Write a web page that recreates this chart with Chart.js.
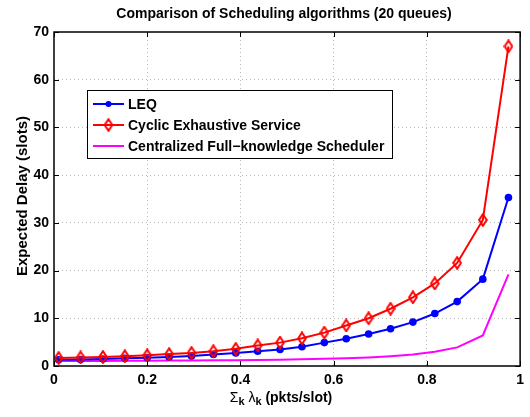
<!DOCTYPE html>
<html>
<head>
<meta charset="utf-8">
<script src="https://cdn.jsdelivr.net/npm/chart.js@4.4.1/dist/chart.umd.min.js"></script>
<style>
  html, body { margin: 0; padding: 0; background: #fff; }
  canvas { display: block; }
</style>
</head>
<body>
<canvas id="delayChart" width="530" height="417"></canvas>
<script>
  // total load, sum of lambda_k (pkts/slot)
  const loadValues = [0.01, 0.057, 0.105, 0.152, 0.2, 0.247, 0.295, 0.342, 0.39, 0.437, 0.485,
    0.532, 0.58, 0.627, 0.675, 0.722, 0.77, 0.817, 0.865, 0.92, 0.975];
  const leqDelay = [1.3, 1.35, 1.45, 1.6, 1.75, 1.9, 2.1, 2.4, 2.75, 3.1, 3.45,
    4.05, 4.9, 5.7, 6.7, 7.8, 9.2, 11.0, 13.5, 18.2, 35.3];
  const cyclicDelay = [1.7, 1.8, 1.9, 2.05, 2.25, 2.5, 2.75, 3.1, 3.6, 4.3, 4.9,
    5.8, 7.0, 8.5, 10.0, 12.0, 14.4, 17.3, 21.6, 30.6, 67.0];
  const centralDelay = [1.05, 1.06, 1.07, 1.09, 1.11, 1.13, 1.16, 1.19, 1.23, 1.27, 1.32,
    1.4, 1.5, 1.62, 1.8, 2.05, 2.4, 3.0, 3.9, 6.4, 19.2];
  const seriesNames = ['LEQ', 'Cyclic Exhaustive Service', 'Centralized Full\u2212knowledge Scheduler'];
  const xTickValues = [0, 0.2, 0.4, 0.6, 0.8, 1];
  const yTickValues = [0, 10, 20, 30, 40, 50, 60, 70];

  const FONT = '"Liberation Sans", Arial, Helvetica, sans-serif';
  const BLUE = '#0000ff';
  const RED = '#ff0000';
  const MAGENTA = '#ff00ff';

  // hollow tall diamond like matlab's 'd' marker
  function makeDiamond(color) {
    const c = document.createElement('canvas');
    c.width = 10;
    c.height = 14;
    const g = c.getContext('2d');
    g.strokeStyle = color;
    g.lineWidth = 2;
    g.beginPath();
    g.moveTo(5, 1.2);
    g.lineTo(8.8, 7);
    g.lineTo(5, 12.8);
    g.lineTo(1.2, 7);
    g.closePath();
    g.stroke();
    return c;
  }
  const diamond = makeDiamond(RED);

  function toPoints(ys) {
    return ys.map(function (y, i) { return { x: loadValues[i], y: y }; });
  }

  const matlabFrame = {
    id: 'matlabFrame',
    afterDraw: function (chart) {
      const ctx = chart.ctx;
      const area = chart.chartArea;
      const xs = chart.scales.x;
      const ys = chart.scales.y;

      ctx.save();
      // inward ticks
      ctx.strokeStyle = '#000';
      ctx.lineWidth = 1;
      ctx.beginPath();
      xTickValues.forEach(function (v) {
        const px = Math.round(xs.getPixelForValue(v)) + 0.5;
        ctx.moveTo(px, area.bottom); ctx.lineTo(px, area.bottom - 5);
        ctx.moveTo(px, area.top); ctx.lineTo(px, area.top + 5);
      });
      yTickValues.forEach(function (v) {
        const py = Math.round(ys.getPixelForValue(v)) + 0.5;
        ctx.moveTo(area.left, py); ctx.lineTo(area.left + 5, py);
        ctx.moveTo(area.right, py); ctx.lineTo(area.right - 5, py);
      });
      ctx.stroke();

      // box
      ctx.lineWidth = 1.5;
      ctx.strokeRect(area.left, area.top, area.right - area.left, area.bottom - area.top);

      // title
      ctx.fillStyle = '#000';
      ctx.textAlign = 'center';
      ctx.textBaseline = 'middle';
      ctx.font = 'bold 14px ' + FONT;
      ctx.fillText('Comparison of Scheduling algorithms (20 queues)', 284, 14);

      // y axis title
      ctx.save();
      ctx.translate(23, 196);
      ctx.rotate(-Math.PI / 2);
      ctx.font = 'bold 15px ' + FONT;
      ctx.fillText('Expected Delay (slots)', 0, 0);
      ctx.restore();

      // x axis title with subscripts
      const parts = [
        { t: '\u03a3', f: '14px ' + FONT, dy: 0 },
        { t: 'k', f: 'bold 11px ' + FONT, dy: 4 },
        { t: ' \u03bb', f: '14px ' + FONT, dy: 0 },
        { t: 'k', f: 'bold 11px ' + FONT, dy: 4 },
        { t: ' (pkts/slot)', f: 'bold 14px ' + FONT, dy: 0 }
      ];
      let total = 0;
      parts.forEach(function (p) { ctx.font = p.f; p.w = ctx.measureText(p.t).width; total += p.w; });
      let cx = 281 - total / 2;
      ctx.textAlign = 'left';
      parts.forEach(function (p) {
        ctx.font = p.f;
        ctx.fillText(p.t, cx, 398 + p.dy);
        cx += p.w;
      });

      // legend
      const lx = 87, ly = 90, lw = 305, lh = 68;
      ctx.fillStyle = '#fff';
      ctx.fillRect(lx, ly, lw, lh);
      ctx.strokeStyle = '#000';
      ctx.lineWidth = 1;
      ctx.strokeRect(lx + 0.5, ly + 0.5, lw, lh);
      const rows = [104, 125, 146];
      const colors = [BLUE, RED, MAGENTA];
      rows.forEach(function (ry, i) {
        ctx.strokeStyle = colors[i];
        ctx.lineWidth = 2;
        ctx.beginPath();
        ctx.moveTo(93, ry); ctx.lineTo(124, ry);
        ctx.stroke();
        if (i === 0) {
          ctx.fillStyle = BLUE;
          ctx.beginPath();
          ctx.arc(108.5, ry, 3, 0, Math.PI * 2);
          ctx.fill();
        } else if (i === 1) {
          ctx.drawImage(diamond, 108.5 - 5, ry - 7);
        }
        ctx.fillStyle = '#000';
        ctx.font = 'bold 14px ' + FONT;
        ctx.textAlign = 'left';
        ctx.fillText(seriesNames[i], 128, ry + 1);
      });
      ctx.restore();
    }
  };

  function gridColor(c) {
    const v = c.tick && c.tick.value;
    const first = c.scale.min, last = c.scale.max;
    return (v === first || v === last) ? 'rgba(0,0,0,0)' : '#b8b8b8';
  }

  new Chart(document.getElementById('delayChart'), {
    type: 'line',
    data: {
      datasets: [
        {
          label: seriesNames[0],
          data: toPoints(leqDelay),
          borderColor: BLUE,
          backgroundColor: BLUE,
          borderWidth: 2,
          pointStyle: 'circle',
          pointRadius: 3.8,
          pointBorderWidth: 0,
          order: 2
        },
        {
          label: seriesNames[1],
          data: toPoints(cyclicDelay),
          borderColor: RED,
          backgroundColor: RED,
          borderWidth: 2,
          pointStyle: diamond,
          pointRadius: 5,
          order: 1
        },
        {
          label: seriesNames[2],
          data: toPoints(centralDelay),
          borderColor: MAGENTA,
          backgroundColor: MAGENTA,
          borderWidth: 2,
          pointRadius: 0,
          order: 3
        }
      ]
    },
    options: {
      responsive: false,
      animation: false,
      layout: { padding: { top: 32, right: 8, left: 0, bottom: 0 } },
      plugins: {
        legend: { display: false },
        title: { display: false },
        tooltip: { enabled: false }
      },
      scales: {
        x: {
          type: 'linear',
          min: 0,
          max: 1,
          afterFit: function (s) { s.height = 51; },
          afterBuildTicks: function (s) { s.ticks = xTickValues.map(function (v) { return { value: v }; }); },
          ticks: {
            color: '#000',
            font: { family: FONT, size: 14, weight: 'bold' },
            padding: 6,
            maxRotation: 0,
            callback: function (v) { return String(v); }
          },
          grid: { color: gridColor, drawTicks: false, lineWidth: 1 },
          border: { display: false, dash: [1, 3] }
        },
        y: {
          min: 0,
          max: 70,
          afterFit: function (s) { s.width = 54; },
          afterBuildTicks: function (s) { s.ticks = yTickValues.map(function (v) { return { value: v }; }); },
          ticks: {
            color: '#000',
            font: { family: FONT, size: 14, weight: 'bold' },
            padding: 5
          },
          grid: { color: gridColor, drawTicks: false, lineWidth: 1 },
          border: { display: false, dash: [1, 3] }
        }
      }
    },
    plugins: [matlabFrame]
  });
</script>
</body>
</html>
